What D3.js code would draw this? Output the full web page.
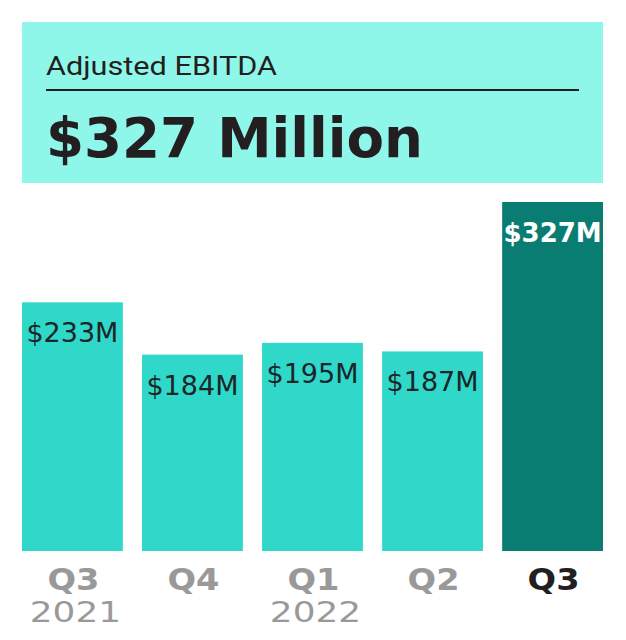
<!DOCTYPE html>
<html>
<head>
<meta charset="utf-8">
<script src="https://cdn.jsdelivr.net/npm/d3@7"></script>
<style>
  body { margin: 0; background: #fff; }
  svg { display: block; }
</style>
</head>
<body>
<svg id="chart" width="626" height="640"></svg>
<script>
// data
const quarters = ['Q3', 'Q4', 'Q1', 'Q2', 'Q3'];
const years = ['2021', '', '2022', '', ''];
const ebitda = [233, 184, 195, 187, 327];
const headline = 'Adjusted EBITDA';
const headValue = '$327 Million';

const CYAN_LIGHT = '#8ff7ea',
  BAR = '#2fd8c8',
  BAR_HI = '#0a7d73',
  INK = '#231f20',
  GREY = '#999999';

const svg = d3.select('#chart');
const last = ebitda.length - 1;

// stretch a label sideways, the source font is an extended face
const stretch = function(sel, factor) {
  sel.each(function() {
    const w = this.getComputedTextLength();
    if (w > 0) {
      d3.select(this)
        .attr('textLength', w * factor)
        .attr('lengthAdjust', 'spacingAndGlyphs');
    }
  });
};

// header box
svg.append('rect')
  .attr('x', 22).attr('y', 22)
  .attr('width', 581).attr('height', 161)
  .attr('fill', CYAN_LIGHT);

svg.append('text')
  .attr('x', 46).attr('y', 75)
  .attr('font-family', 'Roboto, sans-serif')
  .attr('font-size', 26)
  .attr('fill', INK)
  .attr('textLength', 231)
  .attr('lengthAdjust', 'spacingAndGlyphs')
  .text(headline);

svg.append('line')
  .attr('x1', 46).attr('x2', 579)
  .attr('y1', 90).attr('y2', 90)
  .attr('stroke', INK).attr('stroke-width', 2);

svg.append('text')
  .attr('x', 46).attr('y', 157)
  .attr('font-family', 'DejaVu Sans, sans-serif')
  .attr('font-weight', 'bold')
  .attr('font-size', 55)
  .attr('fill', INK)
  .attr('textLength', 377)
  .attr('lengthAdjust', 'spacingAndGlyphs')
  .text(headValue);

// scales
const x = d3.scaleBand()
  .domain(d3.range(ebitda.length))
  .range([22, 603])
  .paddingInner(0.16)
  .paddingOuter(0);

const y = d3.scaleLinear()
  .domain([0, d3.max(ebitda)])
  .range([551, 202]);

const g = svg.append('g');

g.selectAll('rect.bar')
  .data(ebitda)
  .join('rect')
  .attr('class', 'bar')
  .attr('x', (d, i) => x(i))
  .attr('width', x.bandwidth())
  .attr('y', d => y(d))
  .attr('height', d => y(0) - y(d))
  .attr('fill', (d, i) => i === last ? BAR_HI : BAR);

g.selectAll('text.val')
  .data(ebitda)
  .join('text')
  .attr('class', 'val')
  .attr('x', (d, i) => x(i) + x.bandwidth() / 2)
  .attr('y', d => y(d) + 40)
  .attr('text-anchor', 'middle')
  .attr('font-family', 'DejaVu Sans, sans-serif')
  .attr('font-size', (d, i) => i === last ? 26 : 27)
  .attr('font-weight', (d, i) => i === last ? 'bold' : 'normal')
  .attr('fill', (d, i) => i === last ? '#ffffff' : '#1c2628')
  .text(d => '$' + d + 'M');

// x labels
g.selectAll('text.q')
  .data(quarters)
  .join('text')
  .attr('class', 'q')
  .attr('x', (d, i) => x(i) + x.bandwidth() / 2 + 1)
  .attr('y', 590)
  .attr('text-anchor', 'middle')
  .attr('font-family', 'DejaVu Sans, sans-serif')
  .attr('font-weight', 'bold')
  .attr('font-size', 30)
  .attr('fill', (d, i) => i === last ? INK : GREY)
  .text(d => d)
  .call(stretch, 1.12);

g.selectAll('text.yr')
  .data(years)
  .join('text')
  .attr('class', 'yr')
  .attr('x', (d, i) => x(i) + x.bandwidth() / 2 + 3)
  .attr('y', 622)
  .attr('text-anchor', 'middle')
  .attr('font-family', 'DejaVu Sans, sans-serif')
  .attr('font-size', 28)
  .attr('fill', GREY)
  .text(d => d)
  .call(stretch, 1.28);
</script>
</body>
</html>
